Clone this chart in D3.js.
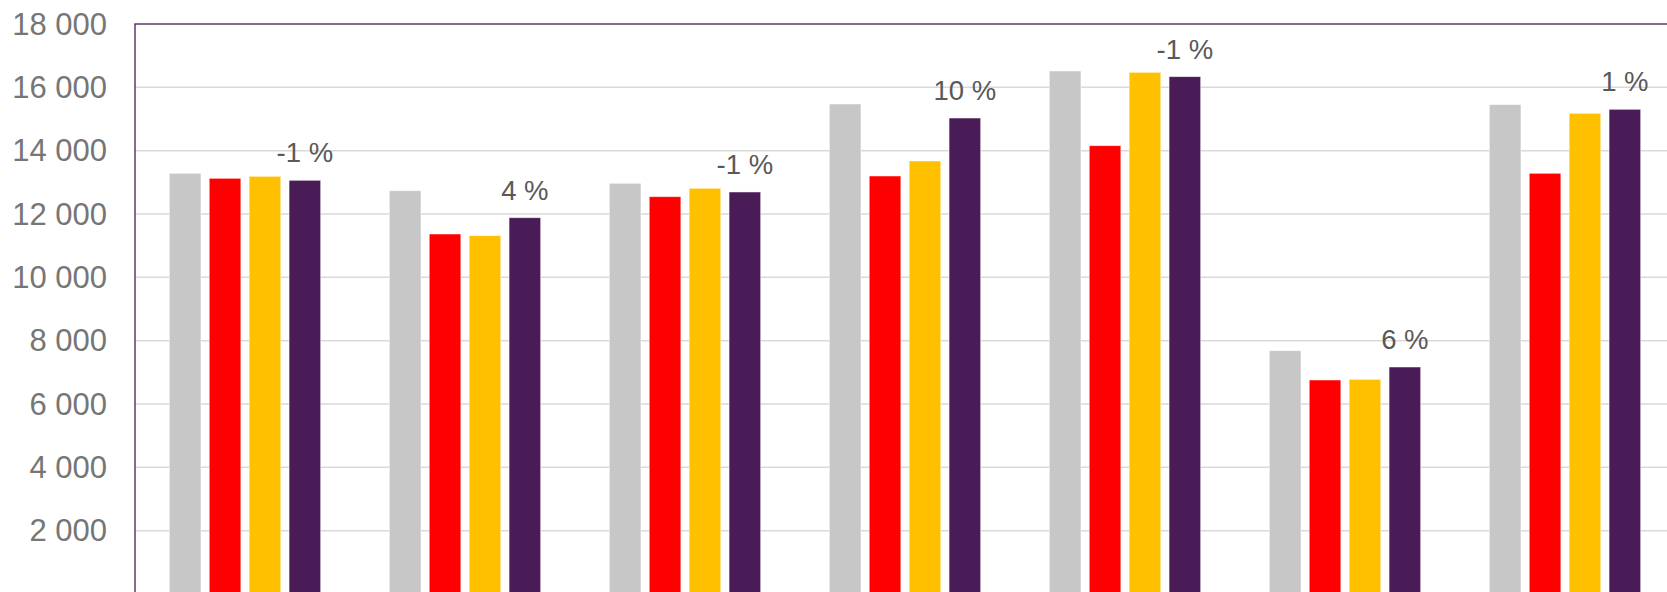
<!DOCTYPE html>
<html>
<head>
<meta charset="utf-8">
<script src="https://cdn.jsdelivr.net/npm/d3@7"></script>
<style>
  html, body { margin: 0; padding: 0; background: #fff; overflow: hidden; }
  svg { display: block; }
</style>
</head>
<body>
<svg id="chart" width="1667" height="592"></svg>
<script>
// ---- data ----
const categories = ["G1", "G2", "G3", "G4", "G5", "G6", "G7"];
const seriesNames = ["S1", "S2", "S3", "S4"];
const seriesColors = ["#C7C7C7", "#FF0000", "#FFC000", "#4A1C57"];
const s1Values = [13285, 12736, 12969, 15474, 16516, 7684, 15453];
const s2Values = [13127, 11368, 12547, 13200, 14157, 6758, 13285];
const s3Values = [13190, 11315, 12811, 13674, 16474, 6779, 15180];
const s4Values = [13064, 11883, 12695, 15031, 16337, 7168, 15306];
const changeLabels = ["-1 %", "4 %", "-1 %", "10 %", "-1 %", "6 %", "1 %"];
const yTicks = [2000, 4000, 6000, 8000, 10000, 12000, 14000, 16000, 18000];
const yTickLabels = ["2 000", "4 000", "6 000", "8 000", "10 000", "12 000", "14 000", "16 000", "18 000"];

const seriesValues = [s1Values, s2Values, s3Values, s4Values];
const rows = categories.map((c, i) => ({
  cat: c,
  vals: seriesNames.map((s, k) => ({ key: s, value: seriesValues[k][i], color: seriesColors[k] })),
  label: changeLabels[i]
}));

// ---- layout ----
const svg = d3.select("#chart");
const plotLeft = 135, plotTop = 24, plotRight = 1675, plotBottom = 594;

const y = d3.scaleLinear().domain([0, 18000]).range([plotBottom, plotTop]);
const x = d3.scaleBand().domain(categories).range([plotLeft, plotRight])
  .paddingInner(0.312).paddingOuter(0.156);
const xs = d3.scaleBand().domain(seriesNames).range([0, x.bandwidth()])
  .paddingInner(0.208).paddingOuter(0);

// gridlines
svg.append("g").selectAll("line").data(yTicks.slice(0, -1)).join("line")
  .attr("x1", plotLeft).attr("x2", plotRight)
  .attr("y1", d => y(d)).attr("y2", d => y(d))
  .attr("stroke", "#D9D9D9").attr("stroke-width", 1.5);

// y tick labels
svg.append("g").selectAll("text").data(yTicks).join("text")
  .attr("x", 107).attr("y", d => y(d) + 10.5)
  .attr("text-anchor", "end")
  .attr("font-family", "'Liberation Sans', Arial, sans-serif")
  .attr("font-size", 31).attr("fill", "#767676")
  .text((d, i) => yTickLabels[i]);

// bars
const groups = svg.append("g").selectAll("g").data(rows).join("g")
  .attr("transform", d => `translate(${x(d.cat)},0)`);
groups.selectAll("rect").data(d => d.vals).join("rect")
  .attr("x", d => xs(d.key)).attr("width", xs.bandwidth())
  .attr("y", d => y(d.value)).attr("height", d => y(0) - y(d.value))
  .attr("fill", d => d.color)
  .attr("stroke", "#FFFFFF").attr("stroke-opacity", 0.6).attr("stroke-width", 0.8);

// change labels above last series bar
groups.append("text")
  .attr("x", xs(seriesNames[3]) + xs.bandwidth() / 2)
  .attr("y", d => y(d.vals[3].value) - 18)
  .attr("text-anchor", "middle")
  .attr("font-family", "'Liberation Sans', Arial, sans-serif")
  .attr("font-size", 27.5).attr("fill", "#595959")
  .text(d => d.label);

// plot border (top and left visible)
svg.append("rect")
  .attr("x", plotLeft).attr("y", plotTop)
  .attr("width", plotRight - plotLeft).attr("height", plotBottom - plotTop)
  .attr("fill", "none").attr("stroke", "#4A1C57").attr("stroke-width", 1.3);
</script>
</body>
</html>
